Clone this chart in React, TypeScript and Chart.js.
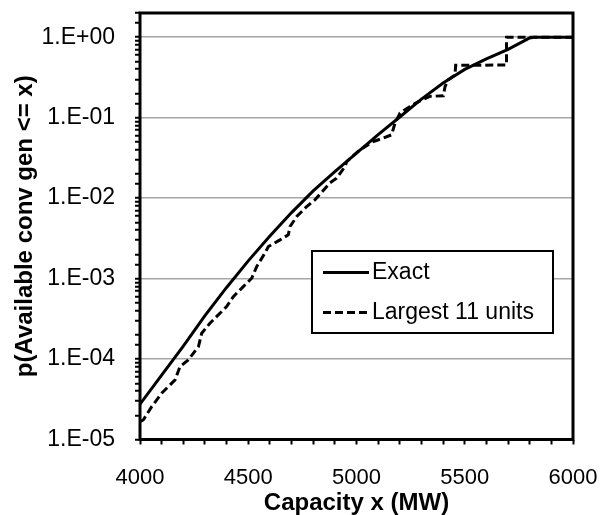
import React, { useEffect, useRef } from 'react';
import { Chart, registerables } from 'chart.js';

Chart.register(...registerables);

// ---- Data ----
const exactLabel = 'Exact';
const exactX = [4000, 4100, 4200, 4300, 4400, 4500, 4600, 4700, 4800, 4900, 5000, 5100, 5200, 5300, 5400, 5500, 5600, 5700, 5750, 5800, 5820, 6000];
const exactP = [2.75e-5, 6.3e-5, 1.45e-4, 3.47e-4, 7.76e-4, 1.66e-3, 3.39e-3, 6.61e-3, 0.0123, 0.0214, 0.0363, 0.0617, 0.102, 0.17, 0.269, 0.398, 0.537, 0.708, 0.832, 0.977, 1.0, 1.0];

const largestLabel = 'Largest 11 units';
const largestX = [4000, 4015, 4054, 4100, 4162, 4185, 4223, 4270, 4285, 4323, 4400, 4431, 4477, 4516, 4539, 4577, 4593, 4647, 4685, 4693, 4724, 4770, 4808, 4878, 4908, 4947, 4955, 5016, 5078, 5124, 5162, 5178, 5201, 5247, 5286, 5339, 5401, 5409, 5424, 5455, 5458, 5693, 5693, 6000];
const largestP = [1.66e-5, 1.75e-5, 2.56e-5, 3.76e-5, 5.5e-5, 8.05e-5, 9.75e-5, 1.43e-4, 2.09e-4, 2.79e-4, 4.49e-4, 5.97e-4, 7.94e-4, 1.01e-3, 1.41e-3, 2.07e-3, 2.5e-3, 3.03e-3, 3.5e-3, 4.44e-3, 5.9e-3, 7.87e-3, 9.53e-3, 0.0155, 0.0177, 0.0247, 0.0285, 0.0399, 0.0506, 0.0557, 0.0612, 0.0857, 0.114, 0.138, 0.158, 0.184, 0.187, 0.244, 0.296, 0.341, 0.447, 0.452, 1.0, 1.0];

const xTickLabels = ['4000', '4500', '5000', '5500', '6000'];
const yTickLabels = ['1.E-05', '1.E-04', '1.E-03', '1.E-02', '1.E-01', '1.E+00'];
const xTitle = 'Capacity x (MW)';
const yTitle = 'p(Available conv gen <= x)';

const FONT = "'Liberation Sans', Arial, Helvetica, sans-serif";

function decadeIndex(v: number): number {
  const l = Math.log10(v);
  const r = Math.round(l);
  if (Math.abs(l - r) < 1e-9) return r + 5;
  return -1;
}

export default function App() {
  const ref = useRef<HTMLCanvasElement>(null);

  useEffect(() => {
    document.body.style.margin = '0';
    const canvas = ref.current;
    if (!canvas) return;

    const boxLegend = {
      id: 'boxLegend',
      afterDraw(chart: any) {
        const c = chart.ctx as CanvasRenderingContext2D;
        const { left, top, right, bottom } = chart.chartArea;
        c.save();
        // plot frame
        c.strokeStyle = '#000';
        c.lineWidth = 3;
        c.setLineDash([]);
        c.strokeRect(left, top, right - left, bottom - top);

        // legend box
        const lx = left + 172;
        const ly = top + 238;
        const lw = 241;
        const lh = 82;
        c.fillStyle = '#fff';
        c.fillRect(lx, ly, lw, lh);
        c.lineWidth = 2;
        c.strokeRect(lx, ly, lw, lh);
        const items = chart.data.datasets;
        const rowY = [ly + 21.5, ly + 61.5];
        items.forEach((ds: any, i: number) => {
          const y = rowY[i];
          c.beginPath();
          c.lineWidth = 3;
          c.strokeStyle = '#000';
          c.setLineDash(ds.borderDash || []);
          c.moveTo(lx + 11, y);
          c.lineTo(lx + 57, y);
          c.stroke();
          c.setLineDash([]);
          c.fillStyle = '#000';
          c.font = `23px ${FONT}`;
          c.textBaseline = 'middle';
          c.textAlign = 'left';
          c.fillText(ds.label, lx + 60, y);
        });
        c.restore();
      },
    };

    const chart = new Chart(canvas, {
      type: 'scatter',
      data: {
        datasets: [
          {
            label: exactLabel,
            data: exactX.map((x, i) => ({ x, y: exactP[i] })),
            showLine: true,
            borderColor: '#000',
            backgroundColor: '#000',
            borderWidth: 3,
            pointRadius: 0,
            tension: 0,
          },
          {
            label: largestLabel,
            data: largestX.map((x, i) => ({ x, y: largestP[i] })),
            showLine: true,
            borderColor: '#000',
            backgroundColor: '#000',
            borderWidth: 3,
            borderDash: [8, 4],
            pointRadius: 0,
            tension: 0,
          },
        ],
      },
      options: {
        responsive: false,
        animation: false,
        devicePixelRatio: 1,
        layout: { padding: { top: 13, right: 38, left: 0, bottom: 0 } },
        plugins: {
          legend: { display: false },
          tooltip: { enabled: false },
        },
        scales: {
          x: {
            type: 'linear',
            min: 4000,
            max: 6000,
            ticks: {
              stepSize: 100,
              autoSkip: false,
              maxRotation: 0,
              color: '#000',
              padding: 20,
              font: { family: FONT, size: 22 },
              callback: (v: any) => {
                const s = String(v);
                return xTickLabels.includes(s) ? s : '';
              },
            },
            grid: {
              drawOnChartArea: false,
              color: '#000',
              tickColor: '#000',
              tickLength: 5,
              tickWidth: 2,
            },
            border: { display: false },
            title: {
              display: true,
              text: xTitle,
              color: '#000',
              font: { family: FONT, size: 24, weight: 'bold', lineHeight: 1 },
              padding: { top: 0, bottom: 0 },
            },
            afterFit: (s: any) => {
              s.height = 75.5;
              s.paddingLeft = 0;
              s.paddingRight = 0;
            },
          },
          y: {
            type: 'logarithmic',
            min: 1e-5,
            max: 2,
            ticks: {
              autoSkip: false,
              color: '#000',
              padding: 20,
              font: { family: FONT, size: 23 },
              callback: (v: any) => {
                const idx = decadeIndex(Number(v));
                return idx >= 0 && idx < yTickLabels.length ? yTickLabels[idx] : '';
              },
            },
            grid: {
              drawOnChartArea: true,
              color: (ctx: any) => {
                const v = ctx.tick ? ctx.tick.value : 0;
                return decadeIndex(v) >= 0 ? '#a6a6a6' : 'rgba(0,0,0,0)';
              },
              lineWidth: 1.5,
              tickColor: '#000',
              tickLength: 5,
              tickWidth: 2,
            },
            border: { display: false },
            title: {
              display: true,
              text: yTitle,
              color: '#000',
              font: { family: FONT, size: 24, weight: 'bold', lineHeight: 1 },
              padding: { top: 13, bottom: 0 },
            },
            afterFit: (s: any) => {
              s.width = 140;
              s.paddingTop = 0;
              s.paddingBottom = 0;
            },
          },
        },
      },
      plugins: [boxLegend],
    } as any);

    return () => {
      chart.destroy();
    };
  }, []);

  return (
    <div style={{ width: 611, height: 515, background: '#fff' }}>
      <canvas ref={ref} width={611} height={515} style={{ display: 'block' }} />
    </div>
  );
}
